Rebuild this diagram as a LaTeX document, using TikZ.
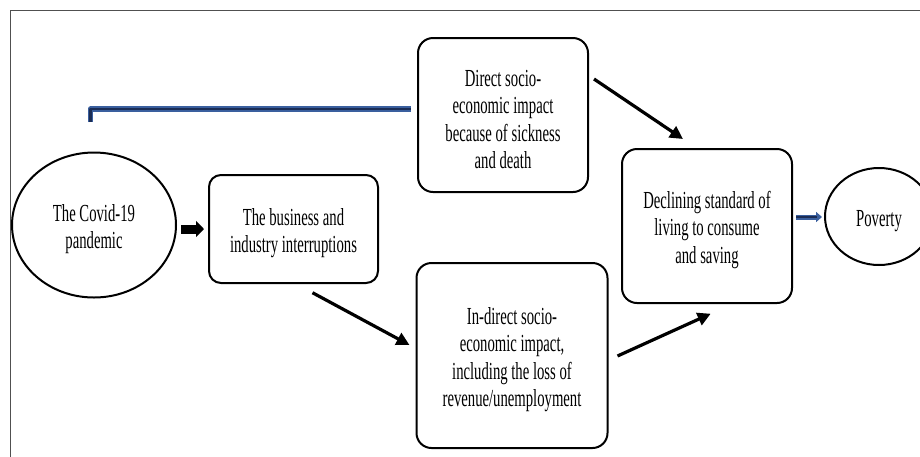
\documentclass[tikz,border=0pt]{standalone}
\usepackage{fontspec}
\setmainfont[FakeStretch=0.6]{Liberation Serif}
\usetikzlibrary{shapes.geometric,arrows.meta,calc}
\definecolor{navyout}{HTML}{3A5F9E}
\definecolor{navyin}{HTML}{1B2D55}
\definecolor{framegray}{HTML}{505050}
\newcommand{\lowstrut}{\rule{0pt}{25pt}}
\tikzset{
  txt/.style={font=\fontsize{24.5}{27.5}\selectfont, align=center, text=black},
  rbox/.style={txt, draw=black, line width=2pt, rectangle, rounded corners=15pt, inner sep=0pt},
  oval/.style={txt, draw=black, line width=2pt, ellipse, inner sep=0pt},
  thinarrow/.style={draw=black, line width=3.2pt, -{Triangle[length=13pt,width=13pt]}},
  fatarrow/.style={draw=black, line width=9pt, -{Triangle[length=8pt,width=16pt]}},
  bluewide/.style={draw=navyout, line width=5.5pt, line join=round},
  bluecore/.style={draw=navyin, line width=2.6pt, line join=round}
}
\begin{document}
\begin{tikzpicture}[x=1pt,y=-1pt]
\useasboundingbox (0,0) rectangle (920,456);
\clip (0,0) rectangle (920,456);
\fill[white] (0,0) rectangle (920,456);
\draw[framegray, line width=1.3pt] (10.5,480) -- (10.5,10.5) -- (950,10.5);

\node[oval, minimum width=164pt, minimum height=145pt] (covid) at (94,225) {\lowstrut The Covid-19\\pandemic};
\node[rbox, rounded corners=12pt, minimum width=169pt, minimum height=108pt] (business) at (293.5,229) {\lowstrut The business and\\industry interruptions};
\node[rbox, minimum width=170pt, minimum height=154pt] (direct) at (503,115) {\lowstrut Direct socio-\\economic impact\\because of sickness\\and death};
\node[rbox, minimum width=170pt, minimum height=154pt] (declining) at (707,226) {\lowstrut Declining standard of\\living to consume\\and saving};
\node[rbox, minimum width=191pt, minimum height=185pt] (indirect) at (512,355.5) {\lowstrut In-direct socio-\\economic impact,\\including the loss of\\revenue/unemployment};
\node[oval, minimum width=108pt, minimum height=97pt] (poverty) at (879,216.5) {\lowstrut Poverty};

% blue bracket line
\coordinate (bstart) at (90.5,122);
\coordinate (bend) at ($(direct.west)+(-6.5,-6)$);
\draw[bluewide] (bstart) -- (bstart |- bend) -- (bend);
\draw[bluecore] (bstart) -- (bstart |- bend) -- (bend);

% arrows
\draw[fatarrow] ($(covid.east)+(4,4)$) -- ($(business.west)+(-4,0)$);
\draw[thinarrow] ($(business.south)+(19,8.7)$) -- ($(indirect.west)+(-6,-10.5)$);
\draw[thinarrow] ($(direct.east)+(5,-36)$) -- ($(declining.north)+(-24,-9)$);
\draw[thinarrow] ($(indirect.east)+(9,0.5)$) -- ($(declining.south)+(3.7,9.7)$);

% blue arrow to poverty
\coordinate (ps) at ($(declining.east)+(3,-9)$);
\coordinate (pe) at ($(poverty.west)+(-2,0.5)$);
\draw[navyout, line width=5pt, -{Triangle[length=6pt,width=10pt]}] (ps) -- (pe);
\draw[navyin, line width=2.4pt, shorten >=5pt] (ps) -- (pe);
\end{tikzpicture}
\end{document}
